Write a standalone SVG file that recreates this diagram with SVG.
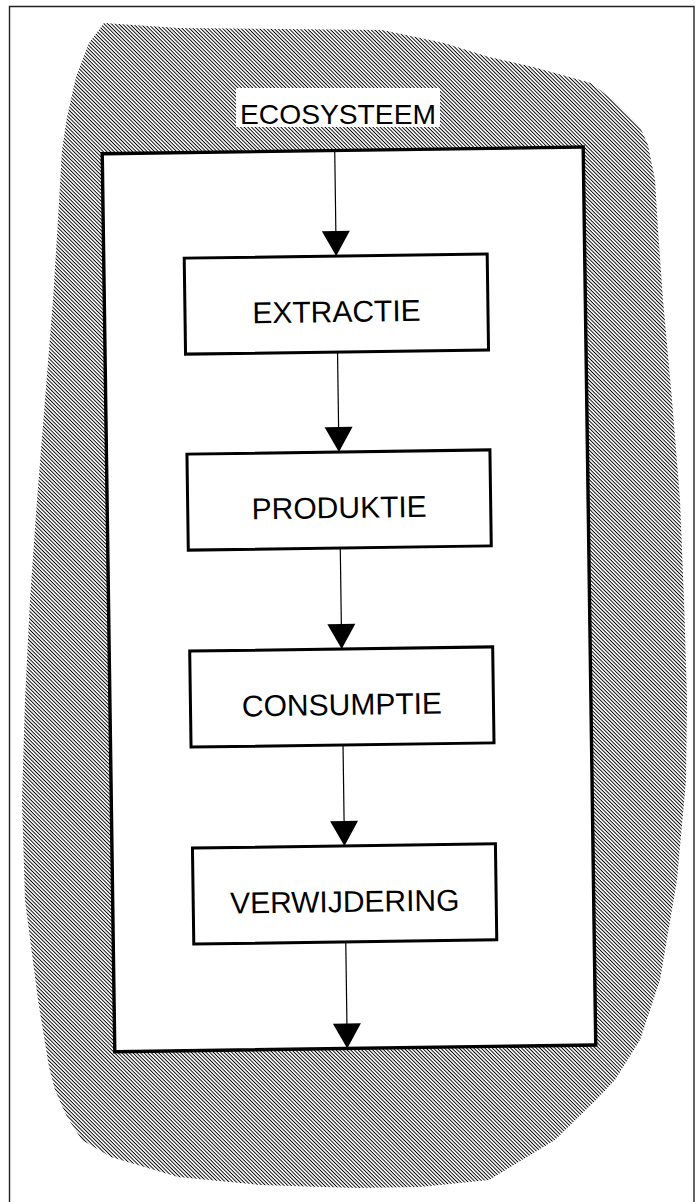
<svg xmlns="http://www.w3.org/2000/svg" width="696" height="1202" viewBox="0 0 696 1202">
  <style>
    .frame{fill:none;stroke:#222;stroke-width:1.4}
    .outer{fill:#fff;stroke:#000;stroke-width:3.4}
    .box{fill:#fff;stroke:#000;stroke-width:3}
    .lbl{font-family:"Liberation Sans",Arial,Helvetica,sans-serif;font-size:30px;fill:#000;text-anchor:middle}
    .conn{stroke:#000;stroke-width:1.2;fill:none;marker-end:url(#head)}
  </style>
  <defs>
    <!-- fine diagonal hatching for the ecosystem area -->
    <pattern id="hatch" patternUnits="userSpaceOnUse" width="8" height="2.6" patternTransform="rotate(45)">
      <rect width="8" height="0.95" fill="#000"/>
    </pattern>
    <marker id="head" markerUnits="userSpaceOnUse" markerWidth="28" markerHeight="25" refX="14" refY="25" orient="0" overflow="visible">
      <path d="M0,0 L28,0 L14,25 Z" fill="#000"/>
    </marker>
  </defs>

  <rect width="696" height="1202" fill="#fff"/>
  <!-- page frame -->
  <path class="frame" d="M9.5,1205 L9.5,6.5 L694,6.5 L694,1205"/>

  <g id="ecosysteem">
    <path fill="url(#hatch)" d="M104,23 L178,28 L382,30 L444,43 L489,57 L533,67 L591,83 L613,100 L628,115 L640,127 L648,145 L655,180 L658,230 L663,300 L672,400 L680,500 L684,600 L687,700 L686,780 L677,880 L660,980 L640,1040 L615,1080 L596,1100 L555,1140 L489,1180 L420,1187 L356,1188 L260,1185 L178,1177 L111,1157 L82,1140 L67,1117 L55,1090 L49,1067 L38,1000 L25,900 L22,800 L25,700 L30,600 L37,500 L45,400 L53,300 L58,220 L62,150 L67,117 L76,77 L89,43 Z"/>
    <rect x="236" y="88" width="204" height="39" fill="#fff"/>
    <text class="lbl" x="338" y="124" textLength="196" lengthAdjust="spacingAndGlyphs" style="font-size:28px">ECOSYSTEEM</text>
  </g>

  <g transform="rotate(-0.8 340 600)">
    <rect id="systeemgrens" class="outer" x="108.5" y="150.5" width="481" height="898"/>

    <g id="extractie">
      <rect class="box" x="189" y="256" width="303" height="96"/>
      <text class="lbl" x="340.5" y="322">EXTRACTIE</text>
    </g>
    <g id="produktie">
      <rect class="box" x="189" y="452" width="303" height="96"/>
      <text class="lbl" x="340.5" y="518">PRODUKTIE</text>
    </g>
    <g id="consumptie">
      <rect class="box" x="189" y="649" width="303" height="96"/>
      <text class="lbl" x="340.5" y="715">CONSUMPTIE</text>
    </g>
    <g id="verwijdering">
      <rect class="box" x="189" y="846" width="303" height="96"/>
      <text class="lbl" x="340.5" y="912">VERWIJDERING</text>
    </g>

    <g id="connectors">
      <line class="conn" x1="341" y1="150.5" x2="341" y2="256"/>
      <line class="conn" x1="341" y1="352" x2="341" y2="452"/>
      <line class="conn" x1="341" y1="548" x2="341" y2="649"/>
      <line class="conn" x1="341" y1="745" x2="341" y2="846"/>
      <line class="conn" x1="341" y1="942" x2="341" y2="1048.5"/>
    </g>
  </g>
</svg>
